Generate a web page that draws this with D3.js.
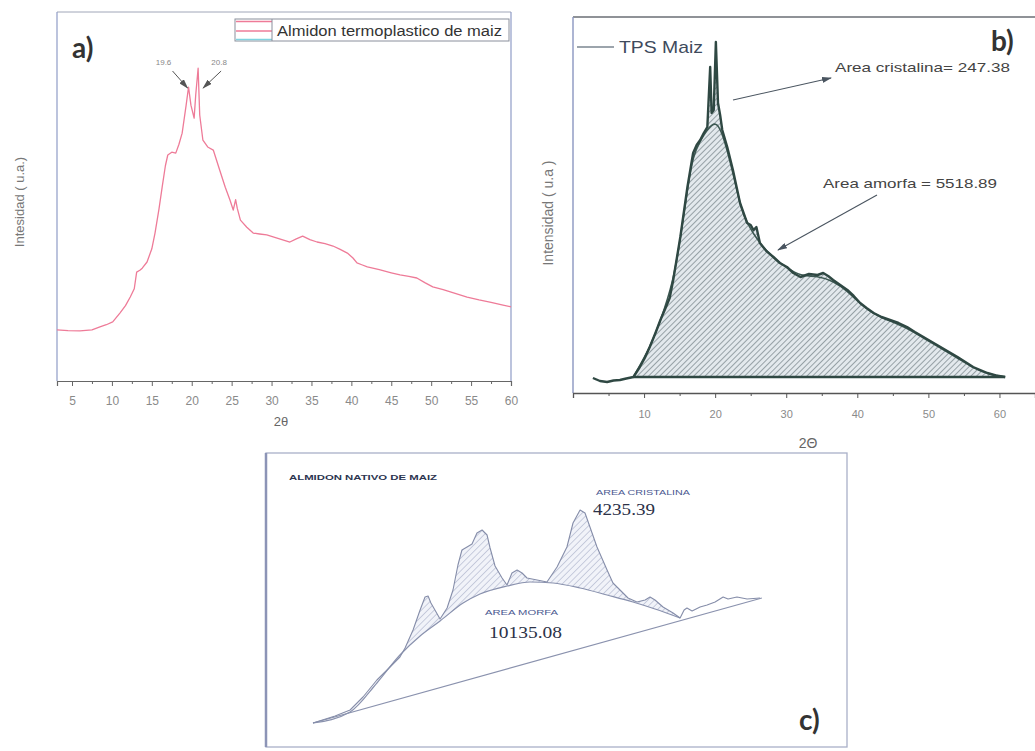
<!DOCTYPE html>
<html><head><meta charset="utf-8">
<script src="https://cdn.jsdelivr.net/npm/d3@7"></script>
<style>body{margin:0;background:#fff}svg{display:block}</style>
</head><body>
<svg id="fig" width="1035" height="751"></svg>
<script>
// ---- a) Almidon termoplastico de maiz ----
const tpsTheta = [3.12,4.5,6.0,7.5,8.5,9.3,10.1,11.0,11.7,12.3,12.8,13.1,13.5,13.8,14.4,15.0,15.4,15.9,16.3,16.7,17.0,17.5,18.0,18.4,18.8,19.3,19.6,19.9,20.3,20.5,20.8,21.0,21.4,22.0,22.7,23.5,24.2,24.8,25.2,25.5,25.7,26.1,26.9,27.7,28.5,29.4,30.5,31.5,32.3,33.1,33.9,34.8,35.7,36.7,37.7,38.6,39.5,40.2,40.7,41.3,42.0,43.5,45.0,46.1,47.2,48.2,49.2,50.2,51.5,53.0,54.5,56.0,57.5,59.0,60.0];
const tpsIntensity = [166,164,163,166,176,183,192,221,245,273,300,354,360,367,387,430,481,560,631,700,735,744,741,770,806,897,956,897,855,930,1017,865,783,761,751,686,630,588,556,590,562,523,500,481,478,475,466,458,452,462,471,460,452,447,439,428,416,400,384,378,371,362,352,345,340,335,320,306,297,285,273,264,256,247,241];
const peakLabels = [19.6, 20.8];
const ticksA = d3.range(5, 61, 5);
const minorTicksA = d3.range(7.5, 60, 5);

// ---- b) TPS Maiz, areas ----
const bTheta = [2.8,3.8,4.8,5.7,6.6,7.5,8.5,9.4,10.1,10.8,11.6,12.3,13.2,13.6,14.1,15.1,16.1,16.9,17.4,17.9,18.4,18.9,19.3,19.5,19.8,20.1,20.4,20.7,21.0,21.7,22.5,23.5,24.5,25.0,25.4,25.8,26.3,27.2,28.2,29.1,30.1,31.0,32.0,33.2,34.4,35.2,35.9,36.6,37.6,38.6,39.5,40.4,41.3,42.3,43.4,44.6,45.8,47.0,48.1,49.3,50.5,51.7,52.9,54.1,55.2,56.3,57.3,58.3,59.5,60.8];
const bIntensity = [150,120,110,125,130,145,160,260,350,460,600,730,880,950,1130,1560,2060,2400,2480,2530,2600,2660,3260,2800,2830,3510,2900,2780,2630,2460,2230,1900,1700,1680,1630,1660,1500,1420,1360,1300,1260,1200,1160,1190,1180,1200,1170,1130,1080,1030,970,900,850,800,760,730,700,660,610,560,510,460,410,360,310,260,230,200,175,160];
const bFitTheta = [8.5,10.8,12.3,14.1,15.1,16.1,16.9,17.9,18.9,20.1,21.0,22.5,23.5,24.5,26.3,28.2,30.1,32.0,34.4,36.6,38.6,40.4,42.3,44.6,47.0,49.3,51.7,54.1,56.3,58.3,60.8];
const bFitIntensity = [160,450,720,1110,1540,2040,2380,2520,2640,2720,2610,2210,1880,1690,1490,1350,1250,1170,1170,1120,1020,890,790,720,650,550,450,350,250,190,160];
const bBaseline = 160;
const bAreaStart = 8.5;
const ticksB = [10, 20, 30, 40, 50, 60];
const minorTicksB = [5, 15, 25, 35, 45, 55, 65];

// ---- c) Almidon nativo de maiz ----
const cTheta = [9.0,10.16,10.95,11.63,12.36,13.05,13.57,13.84,14.26,14.63,14.89,15.05,15.2,15.68,16.05,16.36,16.62,16.83,17.1,17.36,17.62,17.89,18.15,18.31,18.57,18.94,19.2,19.46,19.73,19.99,20.25,20.78,21.3,21.83,22.35,22.67,23.04,23.3,23.56,23.93,24.46,24.77,25.14,25.56,26.03,26.46,26.72,26.98,27.4,27.93,28.3,28.51,28.66,28.93,29.35,29.72,30.14,30.56,30.82,31.29,31.82,32.5];
const cIntensity = [340,480,600,860,1200,1460,1660,1840,2200,2600,2860,2880,2740,2420,2640,3000,3500,3800,3860,3920,4140,4200,4100,3840,3480,3240,3100,3340,3400,3340,3240,3200,3160,3460,3860,4340,4600,4540,4260,3860,3400,3140,3000,2840,2760,2800,2860,2800,2660,2540,2440,2600,2640,2580,2660,2700,2760,2860,2820,2860,2820,2840];
const cAmorphTheta = [9.0,10.95,12.36,13.57,14.63,15.68,16.89,17.78,19.2,20.41,21.62,23.04,24.46,25.82,26.98,28.3];
const cAmorphIntensity = [340,560,1140,1700,2080,2380,2740,2920,3080,3160,3140,3040,2900,2760,2620,2440];
const cBaseTheta = [9.0, 32.6];
const cBaseIntensity = [340, 2840];
const cCrystStart = 13.57, cCrystEnd = 28.3;

const svg = d3.select("#fig");
svg.append("rect").attr("width", 1035).attr("height", 751).attr("fill", "#fff");

const defs = svg.append("defs");
function arrowMarker(id, color) {
  defs.append("marker").attr("id", id).attr("viewBox", "0 0 10 6")
    .attr("refX", 9).attr("refY", 3).attr("markerWidth", 10).attr("markerHeight", 6)
    .attr("markerUnits", "userSpaceOnUse").attr("orient", "auto")
    .append("path").attr("d", "M0,0 L10,3 L0,6 Z").attr("fill", color);
}
arrowMarker("arrA", "#555");
arrowMarker("arrB", "#4a5560");

// hatch for b
const hb = defs.append("pattern").attr("id", "hatchB").attr("patternUnits", "userSpaceOnUse")
  .attr("width", 4).attr("height", 4).attr("patternTransform", "rotate(45)");
hb.append("rect").attr("width", 4).attr("height", 4).attr("fill", "#e3e9ed");
hb.append("line").attr("x1", 0).attr("y1", 0).attr("x2", 0).attr("y2", 4)
  .attr("stroke", "#55656b").attr("stroke-width", 1.1);
// hatch for c
const hc = defs.append("pattern").attr("id", "hatchC").attr("patternUnits", "userSpaceOnUse")
  .attr("width", 4.5).attr("height", 4.5).attr("patternTransform", "rotate(45)");
hc.append("rect").attr("width", 4.5).attr("height", 4.5).attr("fill", "#f1f3f9");
hc.append("line").attr("x1", 0).attr("y1", 0).attr("x2", 0).attr("y2", 4.5)
  .attr("stroke", "#8a92b2").attr("stroke-width", 0.8);

const sans = "'Liberation Sans', Arial, sans-serif";

// ================= Panel a =================
const xa = d3.scaleLinear().domain([3.12, 60]).range([57, 511]);
const ya = d3.scaleLinear().domain([0, 1200]).range([381, 12]);
const ga = svg.append("g");
ga.append("line").attr("x1", 57).attr("x2", 511).attr("y1", 12).attr("y2", 12).attr("stroke", "#a0a6b8");
ga.append("line").attr("x1", 57).attr("x2", 57).attr("y1", 12).attr("y2", 381).attr("stroke", "#8f9cc6").attr("stroke-width", 1.2);
ga.append("line").attr("x1", 511).attr("x2", 511).attr("y1", 12).attr("y2", 381).attr("stroke", "#8f9cc6").attr("stroke-width", 1.2);

const axA = ga.append("g").attr("transform", "translate(0,381)")
  .call(d3.axisBottom(xa).tickValues(ticksA).tickSize(5).tickPadding(10).tickFormat(d3.format("d")));
axA.select(".domain").attr("stroke", "#666").attr("stroke-width", 1.2);
axA.selectAll(".tick line").attr("stroke", "#666");
axA.selectAll("text").attr("fill", "#8a8a8a").style("font", `12px ${sans}`);
const axAm = ga.append("g").attr("transform", "translate(0,381)")
  .call(d3.axisBottom(xa).tickValues(minorTicksA).tickSize(3).tickFormat(""));
axAm.select(".domain").remove();
axAm.selectAll(".tick line").attr("stroke", "#666");

ga.append("text").attr("x", 281).attr("y", 426).attr("text-anchor", "middle")
  .attr("fill", "#666").style("font", `13px ${sans}`).text("2θ");
ga.append("text").attr("transform", "translate(24,202) rotate(-90)").attr("text-anchor", "middle")
  .attr("fill", "#777").style("font", `13px ${sans}`).text("Intesidad ( u.a.)");

const lineA = d3.line().x((d, i) => xa(tpsTheta[i])).y((d) => ya(d));
ga.append("path").attr("d", lineA(tpsIntensity)).attr("fill", "none")
  .attr("stroke", "#ee7b98").attr("stroke-width", 1.3).attr("stroke-linejoin", "round");

// legend
ga.append("rect").attr("x", 235).attr("y", 19).attr("width", 274).attr("height", 22)
  .attr("fill", "#fff").attr("stroke", "#8a8f9c").attr("stroke-width", 1);
ga.append("line").attr("x1", 236).attr("x2", 272).attr("y1", 21.5).attr("y2", 21.5).attr("stroke", "#ee7b98").attr("stroke-width", 1.3);
ga.append("line").attr("x1", 236).attr("x2", 272).attr("y1", 31).attr("y2", 31).attr("stroke", "#ee7b98").attr("stroke-width", 1.3);
ga.append("line").attr("x1", 236).attr("x2", 272).attr("y1", 39.5).attr("y2", 39.5).attr("stroke", "#7fd3e0").attr("stroke-width", 1.3);
ga.append("line").attr("x1", 272).attr("x2", 272).attr("y1", 19).attr("y2", 41).attr("stroke", "#8a8f9c");
ga.append("text").attr("x", 277).attr("y", 36).attr("fill", "#333")
  .attr("textLength", 225).attr("lengthAdjust", "spacingAndGlyphs")
  .style("font", `14px ${sans}`).text("Almidon termoplastico de maiz");

ga.append("text").attr("x", 72).attr("y", 58).attr("fill", "#333")
  .style("font", "700 28px Lato, 'Open Sans', sans-serif").text("a)");

// peak annotations
peakLabels.forEach((p, i) => {
  const px = xa(p);
  const left = i === 0;
  ga.append("text").attr("x", left ? px - 25 : px + 21).attr("y", 65).attr("text-anchor", "middle")
    .attr("fill", "#888").style("font", `8px ${sans}`).text(p.toFixed(1));
  ga.append("line")
    .attr("x1", left ? px - 16 : px + 23).attr("y1", 71)
    .attr("x2", left ? px - 1 : px + 5).attr("y2", 88)
    .attr("stroke", "#555").attr("stroke-width", 1).attr("marker-end", "url(#arrA)");
});

// ================= Panel b =================
const xb = d3.scaleLinear().domain([0, 65]).range([573, 1035]);
const yb = d3.scaleLinear().domain([0, 3760]).range([393, 17]);
const gb = svg.append("g");
gb.append("line").attr("x1", 573).attr("x2", 1035).attr("y1", 17).attr("y2", 17).attr("stroke", "#6a6e74").attr("stroke-width", 1.3);
gb.append("line").attr("x1", 573).attr("x2", 573).attr("y1", 17).attr("y2", 393).attr("stroke", "#8a96c0").attr("stroke-width", 1.4);

const axB = gb.append("g").attr("transform", "translate(0,393)")
  .call(d3.axisBottom(xb).tickValues(ticksB).tickSize(5).tickPadding(12).tickFormat(d3.format("d")));
axB.select(".domain").attr("stroke", "#555").attr("stroke-width", 1.3);
axB.selectAll(".tick line").attr("stroke", "#555");
axB.selectAll("text").attr("fill", "#8a8a8a").style("font", `11px ${sans}`);
const axBm = gb.append("g").attr("transform", "translate(0,393)")
  .call(d3.axisBottom(xb).tickValues(minorTicksB).tickSize(3).tickFormat(""));
axBm.select(".domain").remove();
axBm.selectAll(".tick line").attr("stroke", "#555");

gb.append("text").attr("x", 808).attr("y", 448).attr("text-anchor", "middle")
  .attr("fill", "#666").style("font", `14px ${sans}`).text("2Θ");
gb.append("text").attr("transform", "translate(553,213) rotate(-90)").attr("text-anchor", "middle")
  .attr("fill", "#777").style("font", `14px ${sans}`).text("Intensidad ( u.a )");

// hatched area under the curve
const bIdx = d3.range(bTheta.length).filter((i) => bTheta[i] >= bAreaStart);
const areaB = d3.area().x((i) => xb(bTheta[i])).y0(yb(bBaseline)).y1((i) => yb(bIntensity[i]));
gb.append("path").attr("d", areaB(bIdx)).attr("fill", "url(#hatchB)");
gb.append("line").attr("x1", xb(bAreaStart)).attr("x2", xb(bTheta[bTheta.length - 1]))
  .attr("y1", yb(bBaseline)).attr("y2", yb(bBaseline)).attr("stroke", "#2f4843").attr("stroke-width", 2.5);

const lineBfit = d3.line().x((d, i) => xb(bFitTheta[i])).y((d) => yb(d)).curve(d3.curveBasis);
gb.append("path").attr("d", lineBfit(bFitIntensity)).attr("fill", "none")
  .attr("stroke", "#3c5852").attr("stroke-width", 1.6);
const lineB = d3.line().x((d, i) => xb(bTheta[i])).y((d) => yb(d));
gb.append("path").attr("d", lineB(bIntensity)).attr("fill", "none")
  .attr("stroke", "#2f4843").attr("stroke-width", 2.4).attr("stroke-linejoin", "round");

// legend and labels
gb.append("line").attr("x1", 577).attr("x2", 614).attr("y1", 47).attr("y2", 47).attr("stroke", "#3a4a5a").attr("stroke-width", 1.2);
gb.append("text").attr("x", 619).attr("y", 53).attr("fill", "#3e4a5c")
  .attr("textLength", 84).attr("lengthAdjust", "spacingAndGlyphs")
  .style("font", `17px ${sans}`).text("TPS Maiz");
gb.append("text").attr("x", 991).attr("y", 51).attr("fill", "#333")
  .style("font", "700 28px Lato, 'Open Sans', sans-serif").text("b)");
gb.append("text").attr("x", 835).attr("y", 72).attr("fill", "#444")
  .attr("textLength", 175).attr("lengthAdjust", "spacingAndGlyphs")
  .style("font", `13px ${sans}`).text("Area cristalina= 247.38");
gb.append("line").attr("x1", 733).attr("y1", 100).attr("x2", 831).attr("y2", 78)
  .attr("stroke", "#4a5560").attr("stroke-width", 1.1).attr("marker-end", "url(#arrB)");
gb.append("text").attr("x", 823).attr("y", 188).attr("fill", "#444")
  .attr("textLength", 174).attr("lengthAdjust", "spacingAndGlyphs")
  .style("font", `13px ${sans}`).text("Area amorfa = 5518.89");
gb.append("line").attr("x1", 877).attr("y1", 195).attr("x2", 778).attr("y2", 250)
  .attr("stroke", "#4a5560").attr("stroke-width", 1.1).attr("marker-end", "url(#arrB)");

// ================= Panel c =================
const xc = d3.scaleLinear().domain([9, 32.5]).range([313, 760]);
const yc = d3.scaleLinear().domain([0, 5200]).range([740, 480]);
const gc = svg.append("g");
gc.append("rect").attr("x", 266).attr("y", 453).attr("width", 581).attr("height", 294)
  .attr("fill", "#fff").attr("stroke", "#a9b0c8").attr("stroke-width", 1.3);
gc.append("line").attr("x1", 266).attr("x2", 266).attr("y1", 453).attr("y2", 747)
  .attr("stroke", "#8c94b6").attr("stroke-width", 2.5);

// crystalline (hatched) region between the pattern and the amorphous hump
const crystIdx = d3.range(cTheta.length).filter((i) => cTheta[i] >= cCrystStart && cTheta[i] <= cCrystEnd);
const amIdx = d3.range(cAmorphTheta.length).filter((i) => cAmorphTheta[i] >= cCrystStart).reverse();
const polyPts = crystIdx.map((i) => [xc(cTheta[i]), yc(cIntensity[i])])
  .concat(amIdx.map((i) => [xc(cAmorphTheta[i]), yc(cAmorphIntensity[i])]));
gc.append("path").attr("d", "M" + polyPts.join("L") + "Z").attr("fill", "url(#hatchC)");

const lineC = d3.line().x((d, i) => xc(cTheta[i])).y((d) => yc(d));
const lineAm = d3.line().x((d, i) => xc(cAmorphTheta[i])).y((d) => yc(d)).curve(d3.curveMonotoneX);
const lineBase = d3.line().x((d, i) => xc(cBaseTheta[i])).y((d) => yc(d));
gc.append("path").attr("d", lineBase(cBaseIntensity)).attr("fill", "none").attr("stroke", "#8a92ae").attr("stroke-width", 1.2);
gc.append("path").attr("d", lineAm(cAmorphIntensity)).attr("fill", "none").attr("stroke", "#8a92ae").attr("stroke-width", 1.2);
gc.append("path").attr("d", lineC(cIntensity)).attr("fill", "none").attr("stroke", "#858da9").attr("stroke-width", 1.1).attr("stroke-linejoin", "round");

gc.append("text").attr("x", 289).attr("y", 480).attr("fill", "#2c3550")
  .attr("textLength", 148).attr("lengthAdjust", "spacingAndGlyphs")
  .style("font", `700 8px ${sans}`).text("ALMIDON NATIVO DE MAIZ");
gc.append("text").attr("x", 596).attr("y", 495).attr("fill", "#4a5890")
  .attr("textLength", 94).attr("lengthAdjust", "spacingAndGlyphs")
  .style("font", `7.5px ${sans}`).text("AREA CRISTALINA");
gc.append("text").attr("x", 593).attr("y", 515).attr("fill", "#2c3248")
  .attr("textLength", 62).attr("lengthAdjust", "spacingAndGlyphs")
  .style("font", "16px 'Liberation Serif', 'Times New Roman', serif").text("4235.39");
gc.append("text").attr("x", 485).attr("y", 615).attr("fill", "#4a5890")
  .attr("textLength", 73).attr("lengthAdjust", "spacingAndGlyphs")
  .style("font", `7.5px ${sans}`).text("AREA MORFA");
gc.append("text").attr("x", 489).attr("y", 638).attr("fill", "#2c3248")
  .attr("textLength", 73).attr("lengthAdjust", "spacingAndGlyphs")
  .style("font", "16px 'Liberation Serif', 'Times New Roman', serif").text("10135.08");
gc.append("text").attr("x", 799).attr("y", 730).attr("fill", "#333")
  .style("font", "700 28px Lato, 'Open Sans', sans-serif").text("c)");
</script>
</body></html>
